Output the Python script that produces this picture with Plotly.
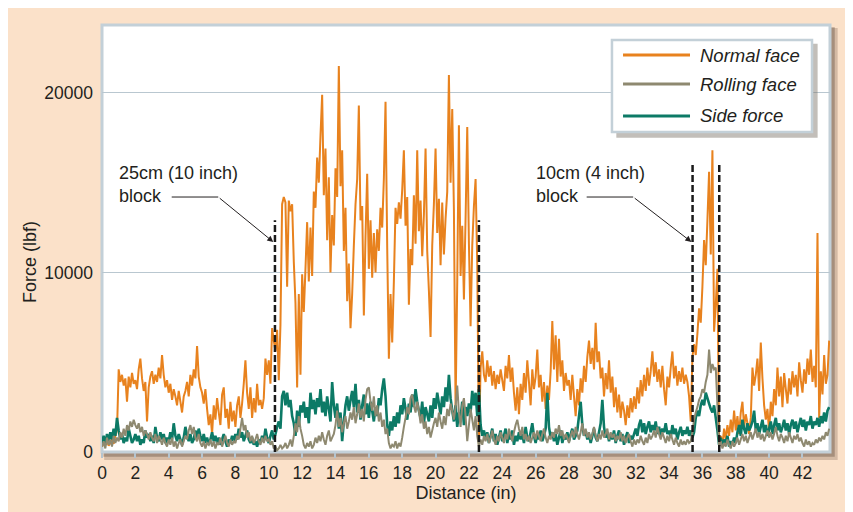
import plotly.graph_objects as go

# ---------------- data ----------------
STEP_IN = 0.1  # sampling interval of the distance axis (inches)

NORMAL_FACE = [
    300, 500, 400, 600, 350, 500, 700, 450, 900, 1200,
    4600, 3900, 4300, 3700, 4100, 2800, 4200, 3600, 4400, 3800,
    4000, 3500, 4600, 5200, 4100, 3400, 3900, 1700, 3600, 4200,
    4500, 3800, 4300, 3900, 4700, 4100, 5400, 4300, 3600, 4000,
    3300, 3800, 2900, 3500, 3100, 2600, 3400, 2800, 2200, 3100,
    3400, 3900, 3100, 4300, 3700, 4600, 4100, 5900, 4200, 3600,
    3300, 2700, 3500, 2400, 1500, 2100, 1000, 2600, 1800, 3000,
    2200, 1500, 3200, 3600, 1900, 2400, 1300, 2800, 1700, 2300,
    1400, 2600, 3100, 1900, 2700, 3800, 5100, 3300, 2400, 3600,
    1900, 3000, 2200, 3800, 2600, 2900, 2400, 3000, 5200, 4300,
    5100, 3800, 6900, 6200, 5600, 6800, 4000, 7100, 13800, 14200,
    13900, 9200, 14000, 13400, 13800, 10600, 8300, 3600, 8800, 4300,
    9900, 7800, 10200, 12800, 9500, 12500, 9800, 14500, 13600, 16400,
    15000, 17600, 19900, 14300, 16900, 11800, 15300, 10000, 13200, 11500,
    15800, 14200, 21500, 14800, 16800, 11200, 13600, 8400, 10500, 6900,
    8800, 11500, 13800, 15200, 19300, 12900, 13700, 7600, 12000, 15500,
    10200, 12900, 9700, 12200, 10000, 12400, 11200, 13600, 12500, 15200,
    19500, 11400, 5200, 8800, 6100, 9500, 13600, 12700, 13900, 13000,
    14600, 16800, 12600, 14200, 8200, 11300, 10400, 14300, 11600, 16800,
    12300, 14000, 10900, 13200, 16900, 11200, 9000, 6400, 11500, 13800,
    16900, 12200, 14100, 10400, 13900, 11000, 13000, 14500, 21000, 15000,
    19100, 13500, 2400, 9500, 18200, 9800, 12600, 8500, 13000, 18100,
    11600, 7000, 11500, 13700, 15200, 10400, 300, 4700, 5600, 4300,
    3900, 5100, 4200, 4800, 3700, 4500, 3500, 4300, 3800, 4600,
    4000, 3400, 4800, 4100, 5400, 3900, 4700, 3300, 2300, 3600,
    2100, 3800, 2900, 4400, 3300, 5100, 3900, 2600, 4600, 3500,
    4200, 5700, 3600, 4300, 2800, 3900, 2400, 3700, 2900, 4500,
    7300, 4600, 6500, 3900, 6300, 4200, 5100, 3400, 4400, 3700,
    4000, 2900, 4300, 3100, 2000, 3500, 2600, 4100, 3300, 4800,
    3900, 5300, 6200, 4900, 5800, 4600, 7200, 5000, 5600, 4100,
    4700, 3100, 4400, 3500, 5100, 3300, 4200, 2500, 3600, 2200,
    3200, 1900, 2800, 2300, 1500, 2600, 1900, 3000, 2200, 3100,
    2400, 3600, 2700, 4000, 3100, 4300, 3400, 4700, 3700, 4500,
    5600, 4200, 5000, 3900, 4600, 3600, 4800, 3500, 2600, 4200,
    3600, 4700, 5600, 4100, 4800, 3700, 4500, 3900, 4700, 3800,
    4300, 3900, 3100, 1700, 5300, 6000, 5400, 6600, 8000, 7200,
    9200, 11800, 10400, 12900, 15600, 11000, 16800, 6700, 8200, 10200,
    600, 900, 400, 1300, 700, 1500, 900, 1800, 1100, 2300,
    1200, 2000, 1000, 2200, 2800, 1400, 2100, 1600, 1000, 1900,
    4700, 3700, 4300, 5200, 3400, 6100, 4100, 2600, 1800, 2400,
    1100, 2800, 2000, 3500, 2600, 4700, 3100, 4200, 2500, 4400,
    3500, 2700, 4100, 3200, 4500, 3600, 4300, 3100, 5000, 4000,
    3300, 4600, 3800, 5200, 4300, 5700, 3900, 4800, 3600, 12200,
    1900, 4500, 3200, 5400, 3800, 4300, 6200,
]

ROLLING_FACE = [
    300, 600, 200, 800, 400, 700, 300, 900, 500, 800,
    600, 1100, 800, 1300, 900, 1500, 1200, 1700, 1400, 1800,
    1500, 1300, 1600, 1100, 1400, 900, 1200, 1000, 700, 1100,
    800, 600, 1000, 500, 900, 700, 400, 800, 500, 300,
    700, 400, 800, 300, 600, 200, 500, 700, 300, 600,
    900, 700, 1200, 1500, 1000, 1400, 800, 600, 1000, 500,
    300, 600, 200, 500, 400, 700, 300, 600, 200, 500,
    400, 800, 300, 600, 900, 500, 300, 700, 400, 600,
    500, 900, 700, 1300, 1900, 1200, 1500, 800, 1100, 600,
    900, 500, 700, 1000, 600, 400, 800, 500, 900, 600,
    700, 400, 600, 200, 300, 100, 200, 400, 200, 300,
    500, 200, 400, 700, 300, 900, 1600, 1100, 2000, 1300,
    900, 400, 200, 500, 300, 600, 200, 400, 800, 500,
    900, 600, 1100, 700, 400, 900, 1200, 600, 800, 1000,
    1500, 2300, 1400, 1900, 1100, 1600, 2000, 1300, 1700, 2200,
    1800, 2500, 1600, 2100, 2700, 1900, 2400, 1700, 2900, 3500,
    3600, 2800, 2300, 3100, 2000, 2600, 1700, 2200, 1400, 1800,
    1000, 1300, 500, 200, 400, 300, 600, 200, 500, 300,
    800, 1400, 1900, 2500, 2100, 3000, 3200, 2600, 2200, 2800,
    2300, 1600, 2100, 1300, 1700, 1000, 1400, 800, 1200, 1600,
    1900, 1400, 2200, 1700, 1300, 2000, 1500, 2400, 2000, 2700,
    2300, 1800, 2500, 3700, 2200, 1400, 2600, 3000, 2000, 600,
    1500, 2400, 1800, 1200, 2000, 900, 300, 700, 400, 900,
    600, 1000, 500, 800, 1200, 700, 400, 900, 600, 1100,
    800, 500, 1000, 700, 1300, 900, 600, 1100, 1500, 1800,
    1300, 900, 1400, 700, 1000, 600, 900, 500, 800, 1100,
    700, 1200, 900, 600, 1000, 1300, 800, 500, 900, 700,
    1100, 800, 1300, 1000, 1500, 900, 1200, 700, 1000, 800,
    500, 900, 1200, 800, 1400, 1000, 700, 1100, 1600, 900,
    1300, 800, 1100, 700, 1000, 1400, 900, 600, 1000, 700,
    1200, 800, 1000, 1300, 700, 1100, 800, 1000, 600, 900,
    700, 1100, 600, 900, 500, 800, 1000, 600, 300, 700,
    400, 700, 500, 900, 600, 400, 800, 500, 1000, 700,
    900, 1200, 800, 1400, 1000, 700, 1100, 800, 500, 900,
    600, 1000, 700, 400, 800, 500, 300, 700, 400, 600,
    400, 700, 500, 600, 1100, 1800, 2200, 2500, 2900, 3100,
    3500, 3300, 3900, 4300, 5700, 4400, 4900, 4600, 4700, 2600,
    300, 600, 200, 500, 300, 700, 400, 200, 600, 300,
    500, 800, 400, 700, 1000, 600, 900, 500, 800, 1100,
    700, 1000, 1300, 800, 1100, 700, 1000, 600, 900, 1200,
    800, 1100, 700, 1000, 1400, 900, 600, 1000, 800, 500,
    900, 600, 1100, 800, 500, 900, 700, 1000, 600, 800,
    500, 300, 700, 400, 600, 300, 500, 400, 700, 500,
    800, 600, 900, 700, 1100, 900, 1300,
]

SIDE_FORCE = [
    500, 900, 400, 1000, 600, 1100, 700, 1300, 900, 1900,
    1200, 700, 1000, 500, 800, 600, 1300, 900, 500, 700,
    1000, 600, 900, 400, 700, 500, 1200, 800, 1000, 600,
    900, 500, 1400, 800, 600, 1100, 700, 1000, 500, 800,
    600, 1100, 700, 1600, 900, 600, 1000, 700, 400, 800,
    1400, 900, 600, 1000, 500, 700, 1200, 800, 1300, 900,
    600, 1000, 500, 800, 400, 700, 1100, 600, 900, 500,
    800, 400, 700, 1000, 600, 300, 700, 500, 900, 600,
    1000, 700, 1300, 800, 1100, 600, 900, 1200, 700, 500,
    800, 400, 600, 300, 700, 500, 900, 600, 1300, 800,
    500, 900, 1200, 700, 1000, 1400, 1700, 1300, 3100, 3400,
    2600, 3300, 2500, 2900, 2000, 1600, 900, 2300, 1400, 2600,
    2200, 2800, 1900, 2500, 1600, 3300, 2400, 2900, 2100, 3000,
    2500, 3500, 2200, 2800, 2000, 3100, 2400, 1700, 3900, 2600,
    1900, 2700, 1300, 2200, 600, 1700, 2600, 3100, 2300, 2900,
    3400, 2500, 3800, 2200, 2900, 1800, 2600, 3200, 2100, 2700,
    1900, 2800, 2300, 1700, 2500, 2000, 3000, 2600, 3500, 4100,
    3100, 1500, 900, 1700, 1200, 2000, 1400, 2200, 1600, 2600,
    2100, 3000, 2400, 1800, 2700, 2200, 3200, 2500, 3500, 2800,
    2300, 1900, 2800, 1600, 2500, 2100, 1700, 2600, 1900, 3000,
    2400, 3300, 2700, 2100, 3100, 2500, 3600, 2800, 4300, 3000,
    2300, 1700, 2600, 1400, 2200, 1900, 2800, 1500, 2500, 2000,
    2700, 2200, 3400, 2600, 3300, 2000, 3500, 1500, 900, 1200,
    700, 1100, 500, 900, 1300, 600, 1000, 400, 800, 1200,
    600, 900, 1300, 500, 1000, 700, 1200, 400, 900, 600,
    1100, 700, 1000, 500, 1400, 800, 600, 1100, 1600, 900,
    500, 1000, 700, 1200, 600, 900, 1300, 3300, 1400, 800,
    1100, 600, 1000, 400, 800, 1200, 500, 900, 700, 1100,
    600, 1000, 1300, 700, 900, 1200, 2000, 2800, 1500, 900,
    1200, 700, 1000, 500, 900, 1300, 800, 600, 1100, 1600,
    2900, 1400, 800, 1100, 600, 1000, 700, 1200, 500, 900,
    1200, 600, 1000, 400, 800, 1100, 500, 900, 700, 1000,
    1300, 900, 1500, 1800, 1100, 1600, 1000, 1400, 1700, 1100,
    1500, 1200, 1700, 1000, 1400, 900, 1300, 1100, 1600, 1000,
    1200, 800, 1500, 1000, 1300, 700, 1100, 1400, 900, 1200,
    1000, 1400, 900, 1200, 800, 1100, 1900, 2300, 2000, 2600,
    2900, 2600, 3300, 3000, 2700, 2400, 2200, 2600, 1900, 1200,
    400, 800, 300, 700, 500, 900, 300, 600, 400, 800,
    500, 1100, 1500, 900, 1800, 1300, 1000, 1600, 1200, 1400,
    1700, 2300, 1200, 1600, 1000, 1400, 1800, 1100, 1500, 900,
    1300, 1700, 1000, 1500, 1900, 1200, 1600, 1100, 1400, 1800,
    1200, 1600, 1000, 1500, 1800, 1300, 1700, 1100, 1500, 1900,
    1400, 1800, 1200, 1700, 1500, 2000, 1300, 1700, 1500, 1900,
    1400, 2000, 1600, 2200, 1700, 2300, 2500,
]

DISTANCE = [round(i * STEP_IN, 1) for i in range(len(NORMAL_FACE))]

X_TICKS = list(range(0, 43, 2))
Y_TICKS = [0, 10000, 20000]

# block edges (dashed markers) and their heights
BLOCK_EDGES = [10.37, 22.6, 35.41, 37.01]
BLOCK_TOPS = [12900, 12900, 16000, 16000]

SERIES_NAMES = ["Normal face", "Rolling face", "Side force"]

# ---------------- style ----------------
FONT = "Liberation Sans, Arial, Helvetica, sans-serif"
TXT = "#231f20"
ORANGE = "#e8821e"
GRAY = "#8e8970"
TEAL = "#0c7a66"
PEACH = "#fbe1c9"
FRAME = "#c3d0d8"
GRID = "#b9c7d0"

fig = go.Figure()

for name, ys, color, w in [
    (SERIES_NAMES[0], NORMAL_FACE, ORANGE, 2.0),
    (SERIES_NAMES[2], SIDE_FORCE, TEAL, 2.6),
    (SERIES_NAMES[1], ROLLING_FACE, GRAY, 2.0),
]:
    fig.add_trace(go.Scatter(
        x=DISTANCE, y=ys, mode="lines", name=name,
        line=dict(color=color, width=w, simplify=False),
        showlegend=False, hoverinfo="x+y+name",
    ))

# dashed block markers
for xe, top in zip(BLOCK_EDGES, BLOCK_TOPS):
    fig.add_shape(type="line", xref="x", yref="y", x0=xe, x1=xe, y0=0, y1=top,
                  line=dict(color="#1a1a1a", width=2.5, dash="7px,3px"), layer="above")

shapes = []
# plot drop shadow
shapes.append(dict(type="rect", xref="paper", yref="paper", x0=0.003, x1=1.0105,
                   y0=-0.0185, y1=0.993, fillcolor="rgba(140,115,95,0.35)", line=dict(width=0), layer="below"))
shapes.append(dict(type="rect", xref="paper", yref="paper", x0=0.002, x1=1.0065,
                   y0=-0.011, y1=0.995, fillcolor="rgba(110,90,75,0.45)", line=dict(width=0), layer="below"))
# plot area
shapes.append(dict(type="rect", xref="paper", yref="paper", x0=0, x1=1, y0=0, y1=1,
                   fillcolor="white", line=dict(color=FRAME, width=3), layer="below"))
# legend box shadow + box
shapes.append(dict(type="rect", xref="paper", yref="paper", x0=0.7065, x1=0.9830,
                   y0=0.7360, y1=0.9560, fillcolor="rgba(120,110,100,0.45)", line=dict(width=0), layer="above"))
shapes.append(dict(type="rect", xref="paper", yref="paper", x0=0.7005, x1=0.9753,
                   y0=0.7494, y1=0.9649, fillcolor="white", line=dict(color=FRAME, width=2.5), layer="above"))
for yy, col in [(0.9297, ORANGE), (0.8618, GRAY), (0.7869, TEAL)]:
    shapes.append(dict(type="line", xref="paper", yref="paper", x0=0.7157, x1=0.8077,
                       y0=yy, y1=yy, line=dict(color=col, width=3), layer="above"))
# leader lines of the callouts
shapes.append(dict(type="line", xref="x", yref="y", x0=4.18, x1=6.97, y0=14200, y1=14200,
                   line=dict(color=TXT, width=1), layer="above"))
shapes.append(dict(type="line", xref="x", yref="y", x0=29.06, x1=31.85, y0=14200, y1=14200,
                   line=dict(color=TXT, width=1), layer="above"))
for s in shapes:
    fig.add_shape(**s)

annotations = []
for yy, name in [(0.9297, SERIES_NAMES[0]), (0.8618, SERIES_NAMES[1]), (0.7869, SERIES_NAMES[2])]:
    annotations.append(dict(xref="paper", yref="paper", x=0.8187, y=yy, xanchor="left", yanchor="middle",
                            text=name, showarrow=False,
                            font=dict(family=FONT, size=18.5, color=TXT, style="italic")))
annotations.append(dict(xref="paper", yref="paper", x=0.021, y=0.6276, xanchor="left", yanchor="middle",
                        text="25cm (10 inch)<br>block", align="left", showarrow=False,
                        font=dict(family=FONT, size=18, color=TXT)))
annotations.append(dict(xref="paper", yref="paper", x=0.5935, y=0.6276, xanchor="left", yanchor="middle",
                        text="10cm (4 inch)<br>block", align="left", showarrow=False,
                        font=dict(family=FONT, size=18, color=TXT)))
# arrows
for (hx, hy, bx, by) in [(10.27, 11700, 6.97, 14200), (35.34, 11700, 31.85, 14200)]:
    annotations.append(dict(xref="x", yref="y", x=hx, y=hy, axref="x", ayref="y", ax=bx, ay=by,
                            text="", showarrow=True, arrowhead=2, arrowsize=1.2, arrowwidth=1,
                            arrowcolor=TXT, standoff=0))
# y-axis title
annotations.append(dict(xref="paper", yref="paper", x=-0.0989, y=0.445, xanchor="center", yanchor="middle",
                        text="Force (lbf)", textangle=-90, showarrow=False,
                        font=dict(family=FONT, size=18, color=TXT)))

fig.update_layout(
    width=853, height=512,
    margin=dict(l=94, r=31, t=17, b=68),
    paper_bgcolor=PEACH,
    plot_bgcolor="rgba(0,0,0,0)",
    font=dict(family=FONT, size=17, color=TXT),
    showlegend=False,
    annotations=annotations,
    xaxis=dict(
        range=[0, 43.65], tickvals=X_TICKS, ticktext=[str(t) for t in X_TICKS],
        showgrid=False, zeroline=False, showline=False,
        ticks="outside", ticklen=5, tickwidth=1.5, tickcolor="#b5c4ce",
        tickfont=dict(family=FONT, size=17.5, color=TXT),
        title=dict(text="Distance (in)", font=dict(family=FONT, size=18, color=TXT), standoff=4),
    ),
    yaxis=dict(
        range=[0, 23780], tickvals=Y_TICKS, ticktext=[str(t) for t in Y_TICKS],
        showgrid=True, gridcolor=GRID, gridwidth=1, zeroline=False, showline=False,
        ticks="", ticklabelstandoff=8,
        tickfont=dict(family=FONT, size=17.5, color=TXT),
    ),
)

fig.write_html("out.html")
